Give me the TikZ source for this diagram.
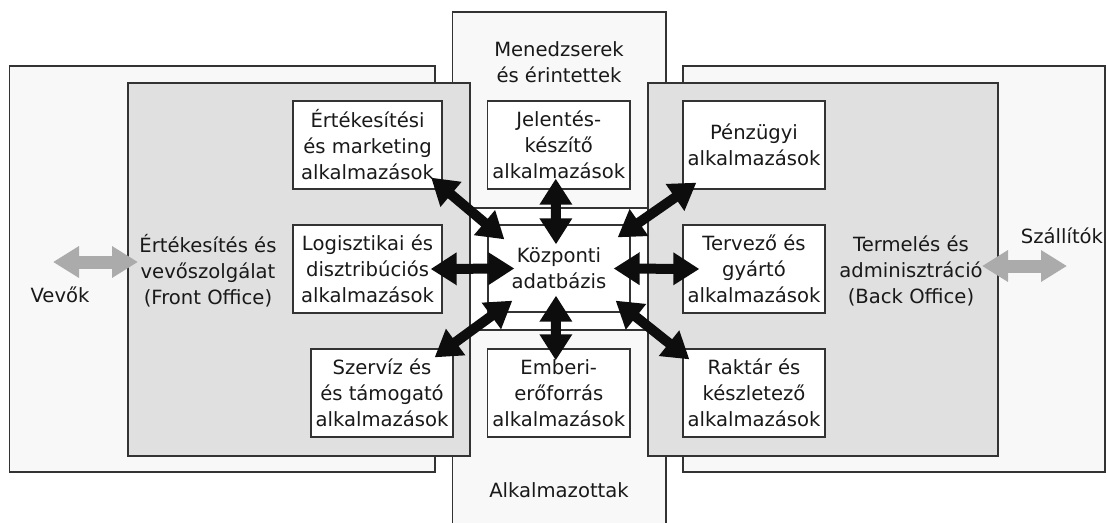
\documentclass[tikz,border=0pt]{standalone}
\usepackage{fontspec}
\setmainfont{DejaVu Sans}
\usetikzlibrary{arrows.meta}

\definecolor{framegray}{HTML}{333333}
\definecolor{outerfill}{HTML}{F8F8F8}
\definecolor{innerfill}{HTML}{E0E0E0}
\definecolor{flowgray}{HTML}{ABABAB}
\definecolor{arrowblack}{HTML}{0D0D0D}

\tikzset{
  txt/.style={font=\fontsize{19.6pt}{26pt}\selectfont, text=black!90, align=center, inner sep=0pt},
  region/.style={draw=framegray, line width=1.3pt},
  appbox/.style={txt, draw=framegray, line width=1.3pt, fill=white,
    minimum height=88pt, inner sep=0pt},
  bigarrow/.style={arrowblack, line width=10pt,
    {Triangle[length=26pt,width=31pt]}-{Triangle[length=26pt,width=31pt]}},
  flowarrow/.style={flowgray, line width=13pt,
    {Triangle[length=26pt,width=30pt]}-{Triangle[length=26pt,width=30pt]}}
}

\begin{document}
\begin{tikzpicture}[x=1pt, y=-1pt]
  \clip (0,0) rectangle (1108,522);
  \fill[white] (0,0) rectangle (1108,522);

  % stakeholder columns and outer partner regions
  \draw[region, fill=outerfill] (452.7,12) rectangle (666,535);
  \draw[region, fill=outerfill] (9.5,66) rectangle (435,472);
  \draw[region, fill=outerfill] (683,66) rectangle (1105,472);

  % front office and back office
  \draw[region, fill=innerfill] (128,83) rectangle (470,456);
  \draw[region, fill=innerfill] (648,83) rectangle (998,456);

  % band around the central database
  \draw[region, fill=white] (470,208) rectangle (648,330);

  % region labels
  \node[txt] (mgr)  at (559,62)  {Menedzserek\\és érintettek};
  \node[txt] (emp)  at (559,490) {Alkalmazottak};
  \node[txt] (fo)   at (208,271) {Értékesítés és\\vevőszolgálat\\(Front Office)};
  \node[txt] (bo)   at (911,271) {Termelés és\\adminisztráció\\(Back Office)};
  \node[txt] (cust) at (60,295)  {Vevők};
  \node[txt] (supp) at (1062,236) {Szállítók};

  % application modules
  \node[appbox, minimum width=149pt] (sales)  at (367.5,145) {Értékesítési\\és marketing\\alkalmazások};
  \node[appbox, minimum width=149pt] (logi)   at (367.5,269) {Logisztikai és\\disztribúciós\\alkalmazások};
  \node[appbox, minimum width=142pt] (serv)   at (382,393)   {Szervíz és\\és támogató\\alkalmazások};
  \node[appbox, minimum width=142.5pt] (report) at (558.75,145) {Jelentés-\\készítő\\alkalmazások};
  \node[appbox, minimum width=142pt, minimum height=87pt] (db) at (559,268.5) {Központi\\adatbázis};
  \node[appbox, minimum width=142.5pt] (hr)     at (558.75,393) {Emberi-\\erőforrás\\alkalmazások};
  \node[appbox, minimum width=142pt] (fin)    at (754,145)   {Pénzügyi\\alkalmazások};
  \node[appbox, minimum width=142pt] (prod)   at (754,269)   {Tervező és\\gyártó\\alkalmazások};
  \node[appbox, minimum width=142pt] (stock)  at (754,393)   {Raktár és\\készletező\\alkalmazások};

  % data flows between the modules and the central database
  \draw[bigarrow] ([shift={(-11.5,-12)}]sales.south east) -- ([shift={(17,15)}]db.north west);
  \draw[bigarrow] ([shift={(-3,-11)}]report.south) -- ([shift={(-3,20)}]db.north);
  \draw[bigarrow] ([shift={(-13,13)}]db.north east) -- ([shift={(14,-7)}]fin.south west);
  \draw[bigarrow] ([shift={(-12,0)}]logi.east) -- ([shift={(27,0)}]db.west);
  \draw[bigarrow] ([shift={(-17,0)}]db.east) -- ([shift={(17,0)}]prod.west);
  \draw[bigarrow] ([shift={(25,-12)}]db.south west) -- ([shift={(-19,9)}]serv.north east);
  \draw[bigarrow] ([shift={(-3,-17)}]db.south) -- ([shift={(-3,12)}]hr.north);
  \draw[bigarrow] ([shift={(-15,-12)}]db.south east) -- ([shift={(7,11)}]stock.north west);

  % exchanges with customers and suppliers
  \coordinate (custflow) at (53,262);
  \coordinate (foflow)   at (138,262);
  \coordinate (boflow)   at (982,266);
  \coordinate (suppflow) at (1067,266);
  \draw[flowarrow] (custflow) -- (foflow);
  \draw[flowarrow] (boflow) -- (suppflow);
\end{tikzpicture}
\end{document}
